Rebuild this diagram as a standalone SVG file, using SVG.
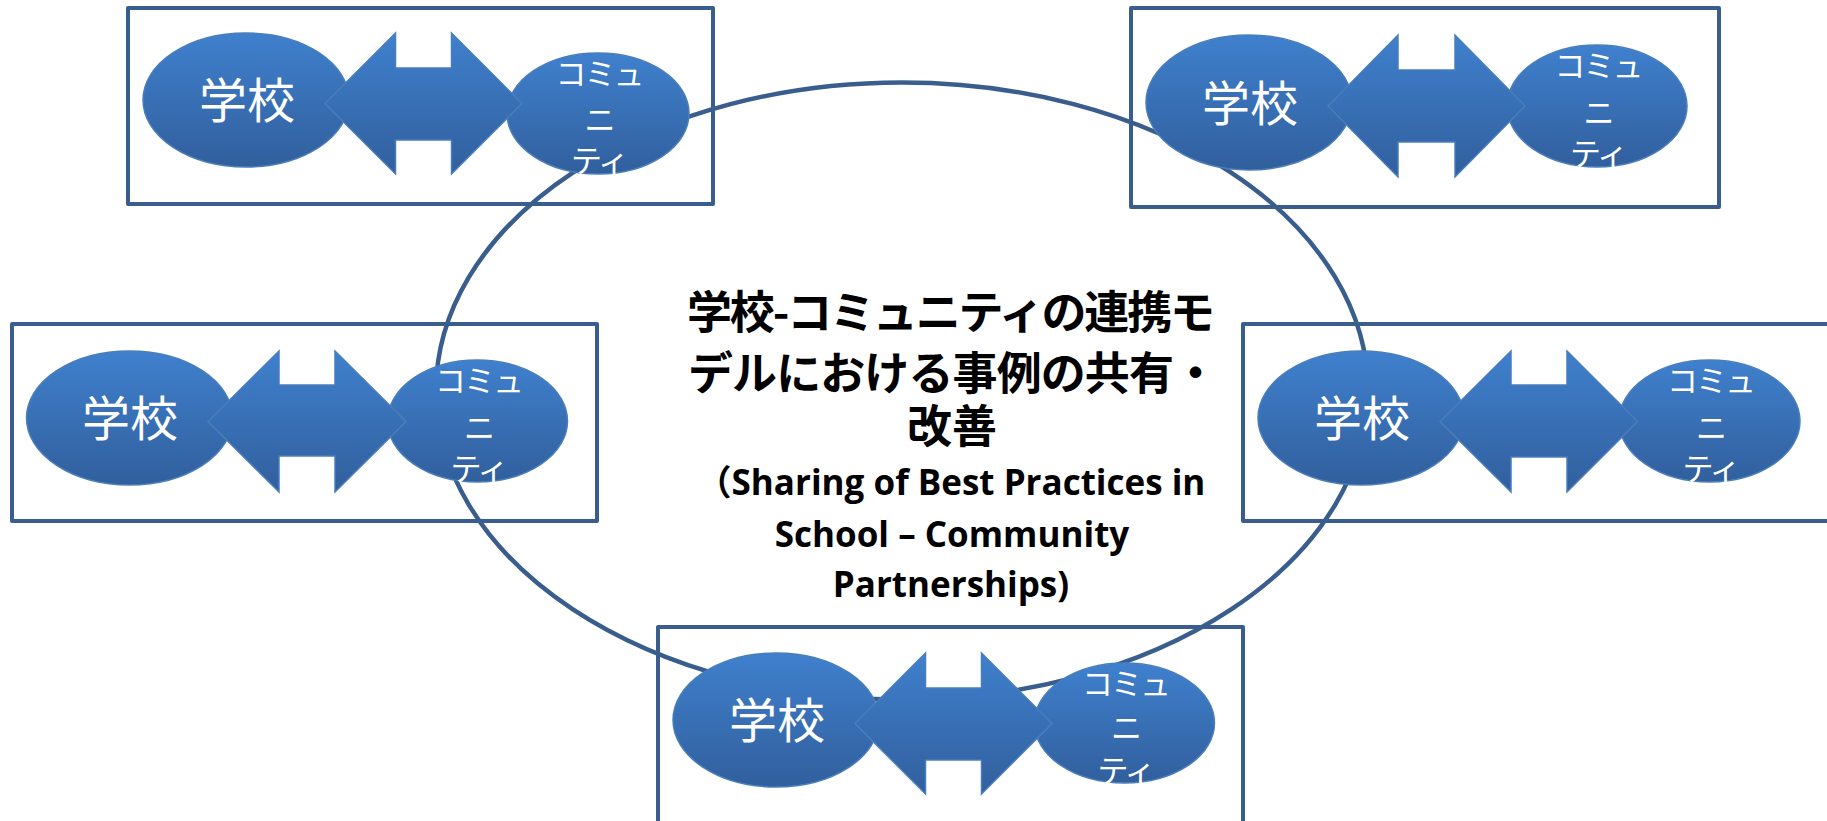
<svg xmlns="http://www.w3.org/2000/svg" width="1827" height="821" viewBox="0 0 1827 821">
<defs>
<linearGradient id="blueFill" x1="0" y1="0" x2="0" y2="1">
<stop offset="0" stop-color="#3F80CD"/>
<stop offset="1" stop-color="#315F9D"/>
</linearGradient>
<style>
.frame{fill:none;stroke:#395E8E;stroke-width:4;stroke-linejoin:round}
.cycle{fill:none;stroke:#395E8E;stroke-width:4.5}
.shape{fill:url(#blueFill);stroke:#4A7EBB;stroke-width:1.5}
.school{font-family:"Noto Sans CJK JP","Noto Sans",sans-serif;font-size:48px;fill:#FFFFFF;text-anchor:middle}
.comm{font-family:"Noto Sans CJK JP","Noto Sans",sans-serif;font-size:31px;letter-spacing:-2px;fill:#FFFFFF;text-anchor:middle}
.titleJ{font-family:"Noto Sans CJK JP",sans-serif;font-size:45px;font-weight:bold;fill:#000000;text-anchor:middle}
.titleE{font-family:"Open Sans","Noto Sans CJK JP",sans-serif;font-size:35px;font-weight:bold;fill:#000000;text-anchor:middle}
</style>
</defs>
<rect width="1827" height="821" fill="#FFFFFF"/>

<g id="connectors">
<ellipse class="cycle" cx="902" cy="391" rx="466" ry="308.5"/>
</g>

<g id="pair-top-left">
<rect class="frame" x="128" y="8" width="585" height="196"/>
<ellipse class="shape" cx="246" cy="100" rx="103" ry="67"/>
<ellipse class="shape" cx="598" cy="113.5" rx="91" ry="60.5"/>
<polygon class="shape" points="325,103.5 395.5,33 395.5,68 451.5,68 451.5,33 522,103.5 451.5,174 451.5,140 395.5,140 395.5,174"/>
<text class="school" x="247" y="118">学校</text>
<text class="comm" x="599"><tspan x="599" y="85">コミュ</tspan><tspan x="599" y="131">ニ</tspan><tspan x="599" y="172">ティ</tspan></text>
</g>

<g id="pair-top-right">
<rect class="frame" x="1131" y="8" width="588" height="199"/>
<ellipse class="shape" cx="1249" cy="102.5" rx="103" ry="67.5"/>
<ellipse class="shape" cx="1597" cy="106" rx="90" ry="61"/>
<polygon class="shape" points="1328,106 1398,35 1398,70 1455,70 1455,35 1525,106 1455,177 1455,142 1398,142 1398,177"/>
<text class="school" x="1250" y="121">学校</text>
<text class="comm" x="1598"><tspan x="1598" y="77">コミュ</tspan><tspan x="1598" y="124">ニ</tspan><tspan x="1598" y="165">ティ</tspan></text>
</g>

<g id="pair-mid-left">
<rect class="frame" x="12" y="324" width="585" height="197"/>
<ellipse class="shape" cx="129.5" cy="418" rx="103" ry="67"/>
<ellipse class="shape" cx="477.5" cy="421" rx="90" ry="61"/>
<polygon class="shape" points="208,421.5 279,351 279,385 335,385 335,351 406,421.5 335,492 335,456 279,456 279,492"/>
<text class="school" x="130" y="436">学校</text>
<text class="comm" x="478.5"><tspan x="478.5" y="392">コミュ</tspan><tspan x="478.5" y="439">ニ</tspan><tspan x="478.5" y="480">ティ</tspan></text>
</g>

<g id="pair-mid-right">
<rect class="frame" x="1243" y="324" width="620" height="197"/>
<ellipse class="shape" cx="1361" cy="418" rx="103" ry="67"/>
<ellipse class="shape" cx="1709.5" cy="421" rx="90.5" ry="61"/>
<polygon class="shape" points="1440,421.5 1511,351 1511,385 1567,385 1567,351 1637.5,421.5 1567,492 1567,457 1511,457 1511,492"/>
<text class="school" x="1362" y="436">学校</text>
<text class="comm" x="1710.5"><tspan x="1710.5" y="392">コミュ</tspan><tspan x="1710.5" y="439">ニ</tspan><tspan x="1710.5" y="480">ティ</tspan></text>
</g>

<g id="pair-bottom">
<rect class="frame" x="658" y="627" width="585" height="230"/>
<ellipse class="shape" cx="776" cy="720" rx="103" ry="67"/>
<ellipse class="shape" cx="1124.5" cy="723" rx="90" ry="60"/>
<polygon class="shape" points="855,723.5 925.5,653 925.5,688 981.5,688 981.5,653 1052,723.5 981.5,794 981.5,760 925.5,760 925.5,794"/>
<text class="school" x="777" y="738">学校</text>
<text class="comm" x="1125.5"><tspan x="1125.5" y="695">コミュ</tspan><tspan x="1125.5" y="739">ニ</tspan><tspan x="1125.5" y="782">ティ</tspan></text>
</g>

<g id="title">
<text class="titleJ" x="951" y="329" textLength="528">学校-コミュニティの連携モ</text>
<text class="titleJ" x="953" y="390" textLength="530">デルにおける事例の共有・</text>
<text class="titleJ" x="952" y="443">改善</text>
<text class="titleE" x="951" y="495">（Sharing of Best Practices in</text>
<text class="titleE" x="952" y="547">School – Community</text>
<text class="titleE" x="951" y="597">Partnerships)</text>
</g>
</svg>
